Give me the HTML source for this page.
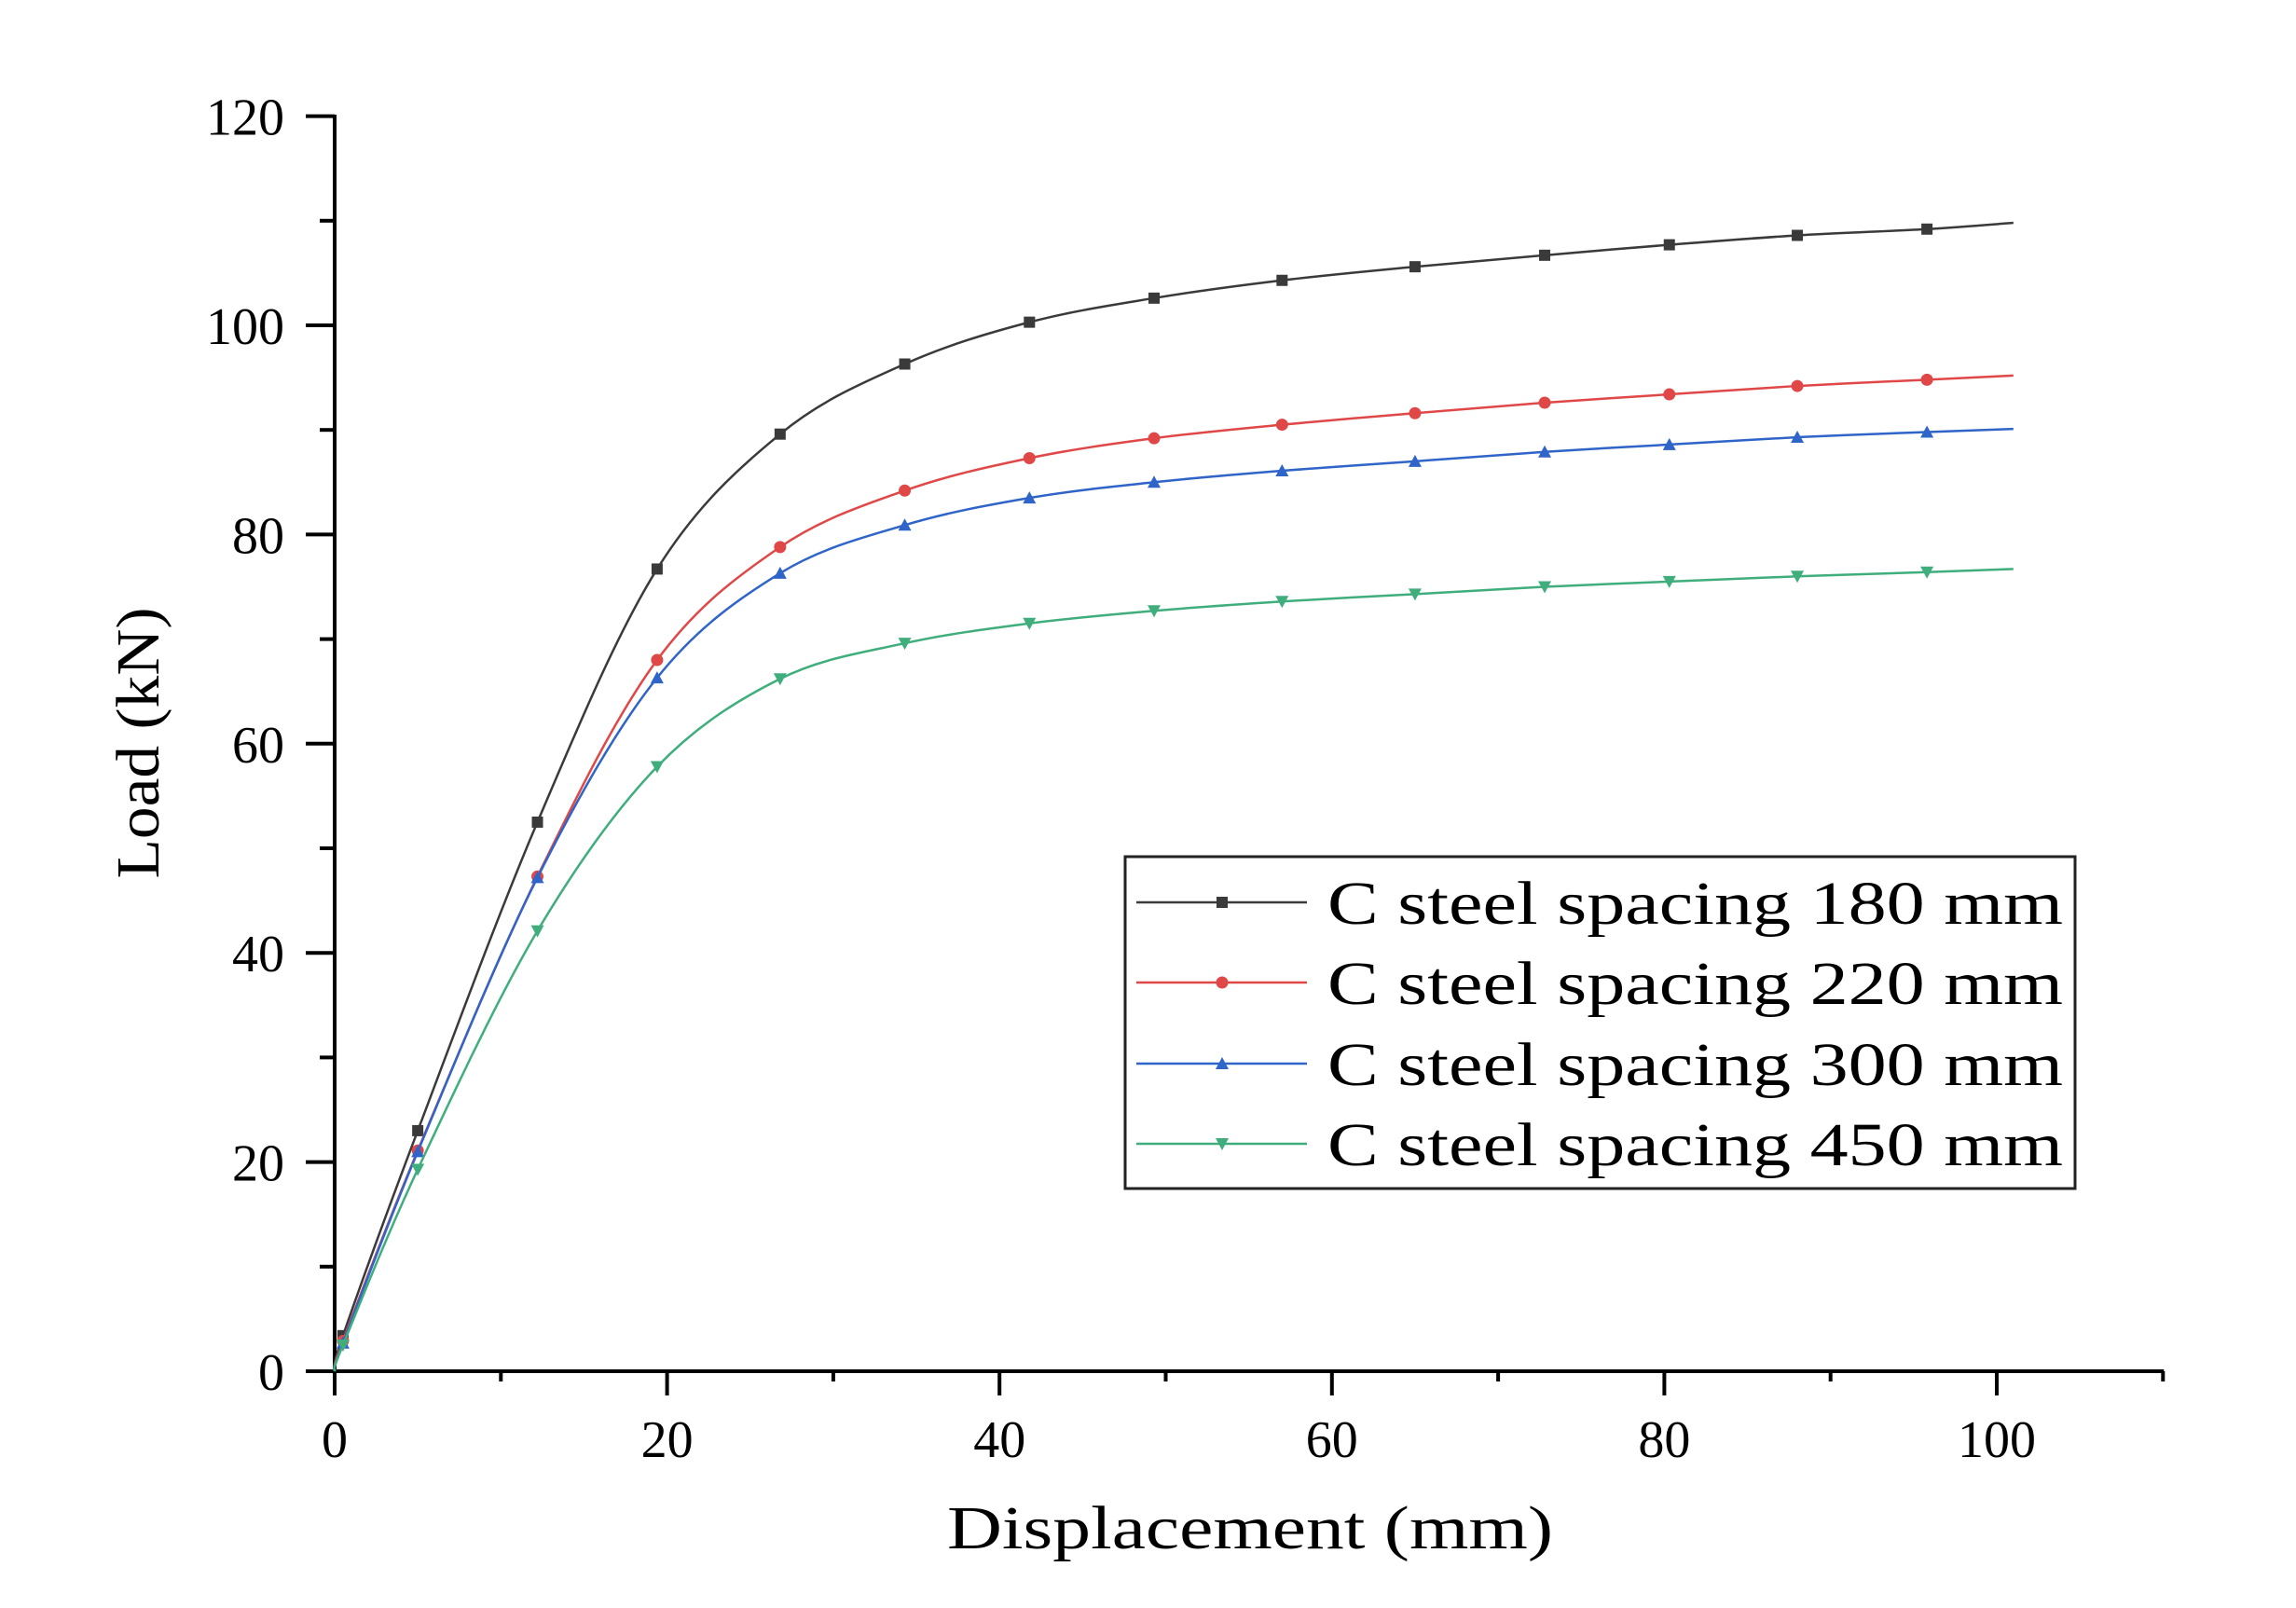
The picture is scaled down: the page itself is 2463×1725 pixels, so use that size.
<!DOCTYPE html>
<html><head><meta charset="utf-8"><style>
html,body{margin:0;padding:0;background:#fff;}
svg{display:block;}
text{font-family:"Liberation Serif",serif;fill:#000;}
</style></head><body>
<svg id="s" width="2463" height="1725" viewBox="0 0 2463 1725" xmlns="http://www.w3.org/2000/svg">
<rect width="2463" height="1725" fill="#fff"/>
<g id="axes" stroke="#000" stroke-width="4" fill="none"></g>
<g id="lbl"></g>
<g id="series"></g>
<rect x="1207" y="919" width="1019" height="356" fill="#fff" stroke="#222" stroke-width="3"/>
<g id="leg"></g>
<text x="1341" y="1661" font-size="66" text-anchor="middle" textLength="650" lengthAdjust="spacingAndGlyphs">Displacement (mm)</text>
<text transform="translate(170,797) rotate(-90)" x="0" y="0" font-size="66" text-anchor="middle" textLength="291" lengthAdjust="spacingAndGlyphs">Load (kN)</text>
</svg>
<script>
var NS="http://www.w3.org/2000/svg";
function X(v){return 359+v*17.83;}
function Y(v){return 1471-v*11.22;}
function el(p,t,a,txt){var e=document.createElementNS(NS,t);for(var k in a)e.setAttribute(k,a[k]);if(txt!==undefined)e.textContent=txt;p.appendChild(e);return e;}
var ax=document.getElementById('axes'),lb=document.getElementById('lbl');
el(ax,'line',{x1:359,y1:123,x2:359,y2:1473});
el(ax,'line',{x1:328,y1:1471,x2:X(110)+1,y2:1471});
for(var v=0;v<=120;v+=10){var maj=v%20==0;el(ax,'line',{x1:maj?328:343,y1:Y(v),x2:359,y2:Y(v)});
 if(maj)el(lb,'text',{x:305,y:Y(v)+20,'font-size':56,'text-anchor':'end'},String(v));}
for(var v=0;v<=110;v+=10){var maj=v%20==0;el(ax,'line',{x1:X(v),y1:1471,x2:X(v),y2:maj?1497:1482});
 if(maj)el(lb,'text',{x:X(v),y:1563,'font-size':56,'text-anchor':'middle'},String(v));}
var xs=[0,0.5,5,12.2,19.4,26.8,34.3,41.8,49.3,57,65,72.8,80.3,88,95.8];
var S=[
 {c:'#3a3a3a',m:'sq',y:[0,3.4,23,52.5,76.7,89.6,96.3,100.3,102.6,104.3,105.6,106.7,107.7,108.6,109.2],e:109.8},
 {c:'#e04848',m:'ci',y:[0,2.9,21.1,47.3,68,78.8,84.2,87.3,89.2,90.5,91.6,92.6,93.4,94.2,94.8],e:95.2},
 {c:'#2f64c8',m:'tu',y:[0,2.7,21,47.2,66.3,76.3,80.9,83.5,85,86.1,87,87.9,88.6,89.3,89.8],e:90.1},
 {c:'#3fae7c',m:'td',y:[0,2.5,19.3,42.1,57.8,66.2,69.6,71.5,72.7,73.6,74.3,75,75.5,76,76.4],e:76.7}];
var sg=document.getElementById('series'),lg=document.getElementById('leg');
function marker(g,t,x,y,c){
 if(t=='sq')el(g,'rect',{x:x-6,y:y-6,width:12,height:12,fill:c});
 else if(t=='ci')el(g,'circle',{cx:x,cy:y,r:6.5,fill:c});
 else if(t=='tu')el(g,'polygon',{points:(x-7)+','+(y+6)+' '+(x+7)+','+(y+6)+' '+x+','+(y-7),fill:c});
 else el(g,'polygon',{points:(x-7)+','+(y-6)+' '+(x+7)+','+(y-6)+' '+x+','+(y+7),fill:c});}
S.forEach(function(s,i){
 var P=xs.map(function(x,j){return [X(x),Y(s.y[j])];});P.push([X(101),Y(s.e)]);
 var d='M'+P[0][0]+','+P[0][1];
 for(var j=0;j<P.length-1;j++){var p0=P[Math.max(j-1,0)],p1=P[j],p2=P[j+1],p3=P[Math.min(j+2,P.length-1)];
  var c1=[p1[0]+(p2[0]-p0[0])/6,p1[1]+(p2[1]-p0[1])/6],c2=[p2[0]-(p3[0]-p1[0])/6,p2[1]-(p3[1]-p1[1])/6];
  d+=' C'+c1+' '+c2+' '+p2;}
 el(sg,'path',{d:d,fill:'none',stroke:s.c,'stroke-width':2.5});
 for(var j=1;j<xs.length;j++)marker(sg,s.m,P[j][0],P[j][1],s.c);
 var ly=[968,1054,1141,1227][i];
 el(lg,'line',{x1:1219,y1:ly,x2:1402,y2:ly,stroke:s.c,'stroke-width':2.5});
 marker(lg,s.m,1311,ly,s.c);
 el(lg,'text',{x:1424,y:ly+23,'font-size':66,textLength:789,lengthAdjust:'spacingAndGlyphs'},'C steel spacing '+['180','220','300','450'][i]+' mm');
});
</script>
</body></html>
